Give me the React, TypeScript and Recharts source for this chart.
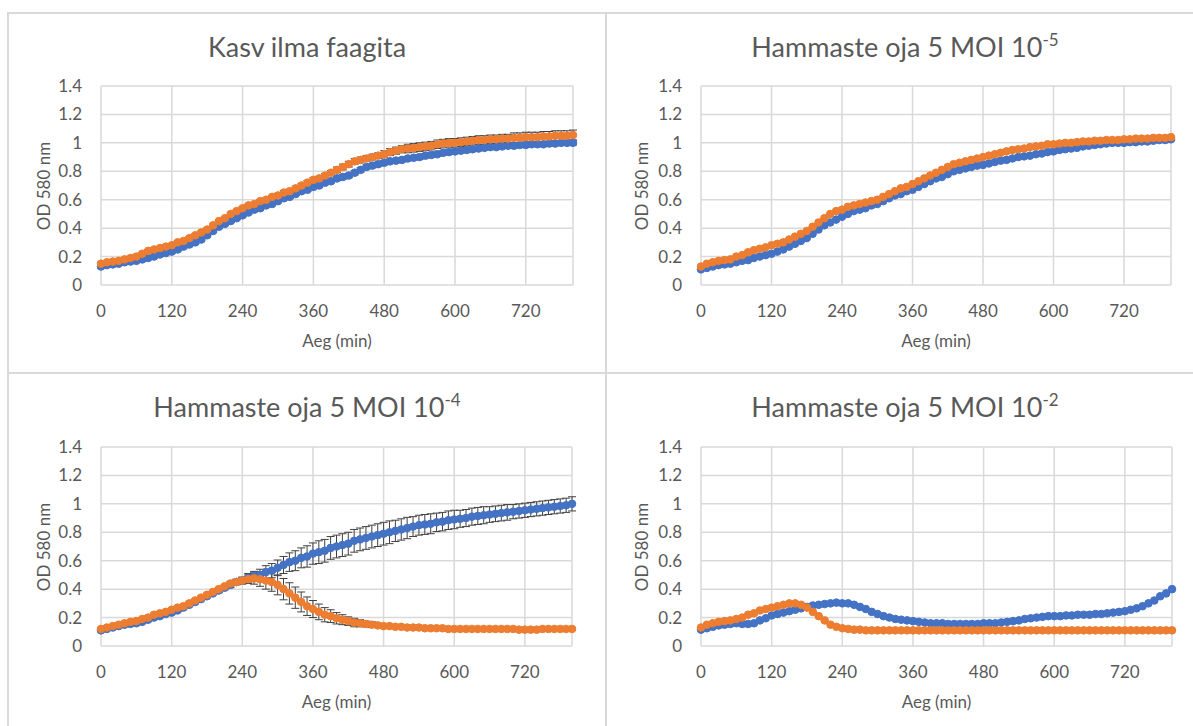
import React from "react";
import { LineChart, Line, XAxis, YAxis, CartesianGrid, ErrorBar } from "recharts";

// time points (min)
const TIME = [
  0, 10, 20, 30, 40, 50, 60, 70, 80, 90,
  100, 110, 120, 130, 140, 150, 160, 170, 180, 190,
  200, 210, 220, 230, 240, 250, 260, 270, 280, 290,
  300, 310, 320, 330, 340, 350, 360, 370, 380, 390,
  400, 410, 420, 430, 440, 450, 460, 470, 480, 490,
  500, 510, 520, 530, 540, 550, 560, 570, 580, 590,
  600, 610, 620, 630, 640, 650, 660, 670, 680, 690,
  700, 710, 720, 730, 740, 750, 760, 770, 780, 790,
  800,
];

const X_TICKS = [0, 120, 240, 360, 480, 600, 720];
const Y_TICKS = [0, 0.2, 0.4, 0.6, 0.8, 1, 1.2, 1.4];

// Kasv ilma faagita
const p1Orange = [
  0.15, 0.16, 0.165, 0.17, 0.18, 0.19, 0.2, 0.22, 0.24, 0.25,
  0.26, 0.27, 0.28, 0.3, 0.31, 0.33, 0.35, 0.37, 0.39, 0.42,
  0.45, 0.47, 0.5, 0.52, 0.54, 0.56, 0.57, 0.59, 0.6, 0.62,
  0.63, 0.65, 0.66, 0.68, 0.7, 0.72, 0.74, 0.75, 0.77, 0.79,
  0.81, 0.83, 0.85, 0.87, 0.88, 0.89, 0.9, 0.91, 0.92, 0.935,
  0.945, 0.955, 0.96, 0.965, 0.97, 0.975, 0.98, 0.99, 0.995, 1.0,
  1.0, 1.005, 1.01, 1.015, 1.02, 1.02, 1.025, 1.025, 1.03, 1.03,
  1.035, 1.035, 1.04, 1.04, 1.04, 1.045, 1.045, 1.05, 1.05, 1.05,
  1.055,
];
const p1Blue = [
  0.13, 0.14, 0.145, 0.15, 0.16, 0.165, 0.17, 0.18, 0.19, 0.2,
  0.215, 0.225, 0.235, 0.25, 0.27, 0.285, 0.3, 0.32, 0.35, 0.38,
  0.41, 0.43, 0.45, 0.47, 0.49, 0.51, 0.53, 0.54, 0.56, 0.57,
  0.59, 0.61, 0.62, 0.64, 0.66, 0.67, 0.69, 0.7, 0.72, 0.73,
  0.75, 0.76, 0.77, 0.79, 0.81, 0.83, 0.84, 0.85, 0.86, 0.87,
  0.875, 0.88, 0.89, 0.895, 0.9, 0.91, 0.915, 0.92, 0.93, 0.935,
  0.94, 0.945, 0.95, 0.955, 0.96, 0.965, 0.97, 0.97, 0.975, 0.98,
  0.98, 0.985, 0.985, 0.99, 0.99, 0.99, 0.995, 0.995, 1.0, 1.0,
  1.0,
];
const p1OrangeErr = [
  0.01, 0.01, 0.01, 0.01, 0.01, 0.01, 0.01, 0.01, 0.01, 0.01,
  0.01, 0.01, 0.01, 0.01, 0.01, 0.01, 0.01, 0.01, 0.01, 0.01,
  0.01, 0.01, 0.01, 0.01, 0.01, 0.01, 0.01, 0.01, 0.01, 0.01,
  0.015, 0.015, 0.015, 0.015, 0.015, 0.015, 0.015, 0.015, 0.015, 0.015,
  0.02, 0.02, 0.02, 0.02, 0.02, 0.02, 0.02, 0.02, 0.025, 0.025,
  0.025, 0.025, 0.03, 0.03, 0.03, 0.03, 0.03, 0.03, 0.03, 0.03,
  0.03, 0.03, 0.03, 0.03, 0.03, 0.03, 0.03, 0.03, 0.03, 0.03,
  0.035, 0.035, 0.035, 0.035, 0.035, 0.035, 0.035, 0.035, 0.035, 0.035,
  0.035,
];
const p1BlueErr = [
  0.01, 0.01, 0.01, 0.01, 0.01, 0.01, 0.01, 0.01, 0.01, 0.01,
  0.01, 0.01, 0.01, 0.01, 0.01, 0.01, 0.01, 0.01, 0.01, 0.01,
  0.01, 0.01, 0.01, 0.01, 0.01, 0.01, 0.01, 0.01, 0.01, 0.01,
  0.01, 0.01, 0.01, 0.01, 0.01, 0.01, 0.01, 0.01, 0.01, 0.01,
  0.015, 0.015, 0.015, 0.015, 0.015, 0.015, 0.015, 0.015, 0.015, 0.015,
  0.015, 0.015, 0.015, 0.015, 0.015, 0.015, 0.015, 0.015, 0.015, 0.015,
  0.015, 0.015, 0.015, 0.015, 0.015, 0.015, 0.015, 0.015, 0.015, 0.015,
  0.015, 0.015, 0.015, 0.015, 0.015, 0.015, 0.015, 0.015, 0.015, 0.015,
  0.015,
];

// Hammaste oja 5 MOI 10^-5
const p2Orange = [
  0.13, 0.15, 0.16, 0.17, 0.175, 0.18, 0.2, 0.21, 0.23, 0.245,
  0.255, 0.265, 0.28, 0.29, 0.3, 0.32, 0.34, 0.36, 0.38, 0.41,
  0.44, 0.47, 0.5, 0.52, 0.53, 0.55, 0.56, 0.57, 0.58, 0.59,
  0.6, 0.62, 0.64, 0.66, 0.68, 0.69, 0.71, 0.73, 0.75, 0.77,
  0.79, 0.81, 0.83, 0.85, 0.86, 0.87, 0.88, 0.89, 0.9, 0.91,
  0.92, 0.93, 0.94, 0.95, 0.955, 0.96, 0.97, 0.975, 0.98, 0.99,
  0.99, 0.995, 1.0, 1.0, 1.005, 1.01, 1.01, 1.015, 1.015, 1.02,
  1.02, 1.02, 1.025, 1.025, 1.03, 1.03, 1.03, 1.035, 1.035, 1.035,
  1.04,
];
const p2Blue = [
  0.11, 0.12, 0.13, 0.14, 0.145, 0.15, 0.16, 0.17, 0.175, 0.19,
  0.2, 0.21, 0.22, 0.235, 0.25, 0.27, 0.29, 0.31, 0.33, 0.36,
  0.39, 0.42, 0.44, 0.46, 0.48, 0.5, 0.52, 0.53, 0.54, 0.56,
  0.57, 0.59, 0.61, 0.63, 0.64, 0.66, 0.67, 0.69, 0.71, 0.73,
  0.75, 0.76, 0.78, 0.8, 0.81, 0.82, 0.83, 0.84, 0.845, 0.855,
  0.865, 0.875, 0.88, 0.89, 0.9, 0.905, 0.91, 0.92, 0.925, 0.935,
  0.94, 0.95, 0.955, 0.96, 0.965, 0.975, 0.98, 0.985, 0.99, 0.995,
  1.0, 1.0, 1.0, 1.005, 1.005, 1.01, 1.01, 1.015, 1.02, 1.02,
  1.025,
];

// Hammaste oja 5 MOI 10^-4
const p3Orange = [
  0.12, 0.13, 0.14, 0.15, 0.16, 0.17, 0.175, 0.19, 0.2, 0.22,
  0.23, 0.24, 0.255, 0.27, 0.28, 0.3, 0.32, 0.34, 0.36, 0.38,
  0.4, 0.42, 0.44, 0.45, 0.46, 0.47, 0.475, 0.47, 0.46, 0.45,
  0.43, 0.4, 0.37, 0.34, 0.31, 0.28, 0.26, 0.24, 0.22, 0.21,
  0.195, 0.185, 0.175, 0.165, 0.16, 0.155, 0.15, 0.145, 0.14, 0.14,
  0.135, 0.135, 0.13, 0.13, 0.13, 0.125, 0.125, 0.125, 0.125, 0.12,
  0.12, 0.12, 0.12, 0.12, 0.12, 0.12, 0.12, 0.12, 0.12, 0.12,
  0.12, 0.115, 0.115, 0.115, 0.115, 0.12, 0.12, 0.12, 0.12, 0.12,
  0.12,
];
const p3Blue = [
  0.11, 0.12, 0.13, 0.14, 0.15, 0.155, 0.16, 0.17, 0.185, 0.2,
  0.21, 0.225, 0.235, 0.25, 0.27, 0.29, 0.31, 0.33, 0.35, 0.37,
  0.39, 0.41, 0.43, 0.45, 0.46, 0.48, 0.49, 0.5, 0.52, 0.53,
  0.55, 0.57, 0.59, 0.6, 0.62, 0.63, 0.65, 0.66, 0.67, 0.69,
  0.7, 0.71, 0.72, 0.74, 0.75, 0.76, 0.77, 0.78, 0.79, 0.8,
  0.81, 0.82, 0.83, 0.84, 0.85, 0.855, 0.86, 0.87, 0.875, 0.885,
  0.89, 0.895, 0.9, 0.91, 0.915, 0.92, 0.925, 0.93, 0.935, 0.94,
  0.945, 0.95, 0.955, 0.96, 0.965, 0.97, 0.975, 0.98, 0.985, 0.99,
  1.0,
];
const p3OrangeErr = [
  0.01, 0.01, 0.01, 0.01, 0.01, 0.01, 0.01, 0.01, 0.01, 0.01,
  0.01, 0.01, 0.01, 0.01, 0.01, 0.01, 0.01, 0.01, 0.01, 0.01,
  0.01, 0.01, 0.015, 0.015, 0.02, 0.03, 0.04, 0.05, 0.06, 0.065,
  0.07, 0.075, 0.075, 0.075, 0.07, 0.065, 0.06, 0.055, 0.05, 0.045,
  0.04, 0.035, 0.03, 0.03, 0.025, 0.02, 0.02, 0.015, 0.01, 0.01,
  0.01, 0.01, 0.01, 0.01, 0.01, 0.01, 0.01, 0.01, 0.01, 0.01,
  0.01, 0.01, 0.01, 0.01, 0.01, 0.01, 0.01, 0.01, 0.01, 0.01,
  0.01, 0.01, 0.01, 0.01, 0.01, 0.01, 0.01, 0.01, 0.01, 0.01,
  0.01,
];
const p3BlueErr = [
  0.01, 0.01, 0.01, 0.01, 0.01, 0.01, 0.01, 0.01, 0.01, 0.01,
  0.01, 0.01, 0.01, 0.01, 0.01, 0.01, 0.01, 0.01, 0.01, 0.01,
  0.015, 0.015, 0.02, 0.02, 0.025, 0.03, 0.035, 0.04, 0.045, 0.05,
  0.055, 0.06, 0.065, 0.07, 0.07, 0.075, 0.075, 0.08, 0.08, 0.08,
  0.08, 0.08, 0.08, 0.08, 0.08, 0.08, 0.08, 0.08, 0.08, 0.08,
  0.075, 0.075, 0.075, 0.07, 0.07, 0.07, 0.07, 0.065, 0.065, 0.065,
  0.065, 0.06, 0.06, 0.06, 0.06, 0.06, 0.055, 0.055, 0.055, 0.055,
  0.05, 0.05, 0.05, 0.05, 0.05, 0.05, 0.05, 0.05, 0.05, 0.05,
  0.05,
];

// Hammaste oja 5 MOI 10^-2
const p4Orange = [
  0.13, 0.15, 0.16, 0.17, 0.175, 0.18, 0.19, 0.2, 0.22, 0.23,
  0.25, 0.26, 0.27, 0.28, 0.29, 0.3, 0.3, 0.29, 0.27, 0.24,
  0.21, 0.18, 0.15, 0.135, 0.125, 0.12, 0.115, 0.115, 0.11, 0.11,
  0.11, 0.11, 0.11, 0.11, 0.11, 0.11, 0.11, 0.11, 0.11, 0.11,
  0.11, 0.11, 0.11, 0.11, 0.11, 0.11, 0.11, 0.11, 0.11, 0.11,
  0.11, 0.11, 0.11, 0.11, 0.11, 0.11, 0.11, 0.11, 0.11, 0.11,
  0.11, 0.11, 0.11, 0.11, 0.11, 0.11, 0.11, 0.11, 0.11, 0.11,
  0.11, 0.11, 0.11, 0.11, 0.11, 0.11, 0.11, 0.11, 0.11, 0.11,
  0.11,
];
const p4Blue = [
  0.115, 0.125, 0.135, 0.145, 0.15, 0.155, 0.16, 0.155, 0.155, 0.16,
  0.18, 0.195, 0.215, 0.225, 0.235, 0.245, 0.255, 0.265, 0.275, 0.285,
  0.29, 0.295, 0.3, 0.305, 0.3, 0.3, 0.29, 0.275, 0.26, 0.24,
  0.225, 0.21, 0.2, 0.19, 0.185, 0.18, 0.175, 0.17, 0.165, 0.16,
  0.16, 0.16, 0.155, 0.155, 0.155, 0.155, 0.155, 0.155, 0.16, 0.16,
  0.16, 0.165, 0.17, 0.175, 0.18, 0.19, 0.195, 0.2, 0.205, 0.21,
  0.21, 0.21, 0.215, 0.215, 0.22, 0.22, 0.22, 0.225, 0.225, 0.23,
  0.235, 0.24, 0.245, 0.255, 0.265, 0.28, 0.3, 0.32, 0.35, 0.37,
  0.4,
];

const BLUE = "#4472C4";
const ORANGE = "#ED7D31";
const TEXT = "#595959";
const GRID = "#d9d9d9";
const FONT = "Lato, 'Open Sans', sans-serif";

type PanelProps = {
  left: number;
  top: number;
  width: number;
  height: number;
  margin: { top: number; right: number; bottom: number; left: number };
  title: string;
  sup?: string;
  blue: number[];
  orange: number[];
  blueErr?: number[];
  orangeErr?: number[];
};

function Panel({ left, top, width, height, margin, title, sup, blue, orange, blueErr, orangeErr }: PanelProps) {
  const data = TIME.map((t, i) => ({
    t,
    blue: blue[i],
    orange: orange[i],
    blueErr: blueErr ? blueErr[i] : 0,
    orangeErr: orangeErr ? orangeErr[i] : 0,
  }));
  const plotLeft = margin.left + 60;
  const plotRight = width - margin.right;
  const plotTop = margin.top;
  const plotBottom = height - margin.bottom - 30;
  const tick = { fill: TEXT, fontSize: 17, fontFamily: FONT };

  return (
    <div style={{ position: "absolute", left, top, width, height }}>
      <div
        style={{
          position: "absolute",
          left: 0,
          top: 17,
          width: 598,
          textAlign: "center",
          fontFamily: FONT,
          fontSize: 27,
          lineHeight: "34px",
          color: TEXT,
          whiteSpace: "nowrap",
        }}
      >
        {title}
        {sup && <span style={{ fontSize: 17, position: "relative", top: -11 }}>{sup}</span>}
      </div>
      <LineChart width={width} height={height} data={data} margin={margin}>
        <CartesianGrid stroke={GRID} strokeWidth={1.5} />
        <XAxis
          dataKey="t"
          type="number"
          domain={[0, 800]}
          ticks={X_TICKS}
          axisLine={false}
          tickLine={false}
          tickSize={0}
          tickMargin={20}
          height={30}
          tick={tick}
        />
        <YAxis
          type="number"
          domain={[0, 1.4]}
          ticks={Y_TICKS}
          axisLine={false}
          tickLine={false}
          tickSize={0}
          tickMargin={19}
          width={60}
          tick={tick}
        />
        <Line
          dataKey="blue"
          stroke={BLUE}
          strokeWidth={3}
          dot={{ r: 3.8, fill: BLUE, stroke: BLUE, strokeWidth: 1 }}
          activeDot={false}
          isAnimationActive={false}
        >
          {blueErr && <ErrorBar dataKey="blueErr" width={4} stroke="#404040" strokeWidth={1} direction="y" />}
        </Line>
        <Line
          dataKey="orange"
          stroke={ORANGE}
          strokeWidth={3}
          dot={{ r: 3.8, fill: ORANGE, stroke: ORANGE, strokeWidth: 1 }}
          activeDot={false}
          isAnimationActive={false}
        >
          {orangeErr && <ErrorBar dataKey="orangeErr" width={4} stroke="#404040" strokeWidth={1} direction="y" />}
        </Line>
      </LineChart>
      <div
        style={{
          position: "absolute",
          left: 35,
          top: (plotTop + plotBottom) / 2,
          transform: "translate(-50%, -50%) rotate(-90deg)",
          fontFamily: FONT,
          fontSize: 17,
          color: TEXT,
          whiteSpace: "nowrap",
        }}
      >
        OD 580 nm
      </div>
      <div
        style={{
          position: "absolute",
          left: (plotLeft + plotRight) / 2,
          top: plotBottom + 55,
          transform: "translate(-50%, -50%)",
          fontFamily: FONT,
          fontSize: 17,
          color: TEXT,
          whiteSpace: "nowrap",
        }}
      >
        Aeg (min)
      </div>
    </div>
  );
}

export default function App() {
  const line = { position: "absolute" as const, background: GRID };
  return (
    <div style={{ position: "absolute", left: 0, top: 0, width: 1193, height: 726, overflow: "hidden", background: "#fff" }}>
      <Panel
        left={8}
        top={13}
        width={598}
        height={360}
        margin={{ top: 73, right: 33, bottom: 58, left: 33 }}
        title="Kasv ilma faagita"
        blue={p1Blue}
        orange={p1Orange}
        blueErr={p1BlueErr}
        orangeErr={p1OrangeErr}
      />
      <Panel
        left={606}
        top={13}
        width={587}
        height={360}
        margin={{ top: 73, right: 22, bottom: 58, left: 35 }}
        title="Hammaste oja 5 MOI 10"
        sup="-5"
        blue={p2Blue}
        orange={p2Orange}
      />
      <Panel
        left={8}
        top={373}
        width={598}
        height={353}
        margin={{ top: 74, right: 34, bottom: 50, left: 33 }}
        title="Hammaste oja 5 MOI 10"
        sup="-4"
        blue={p3Blue}
        orange={p3Orange}
        blueErr={p3BlueErr}
        orangeErr={p3OrangeErr}
      />
      <Panel
        left={606}
        top={373}
        width={587}
        height={353}
        margin={{ top: 74, right: 21, bottom: 50, left: 35 }}
        title="Hammaste oja 5 MOI 10"
        sup="-2"
        blue={p4Blue}
        orange={p4Orange}
      />
      <div style={{ ...line, left: 7, top: 12, width: 1186, height: 2 }} />
      <div style={{ ...line, left: 7, top: 12, width: 2, height: 714 }} />
      <div style={{ ...line, left: 605, top: 12, width: 2, height: 714 }} />
      <div style={{ ...line, left: 7, top: 372, width: 1186, height: 2 }} />
    </div>
  );
}
